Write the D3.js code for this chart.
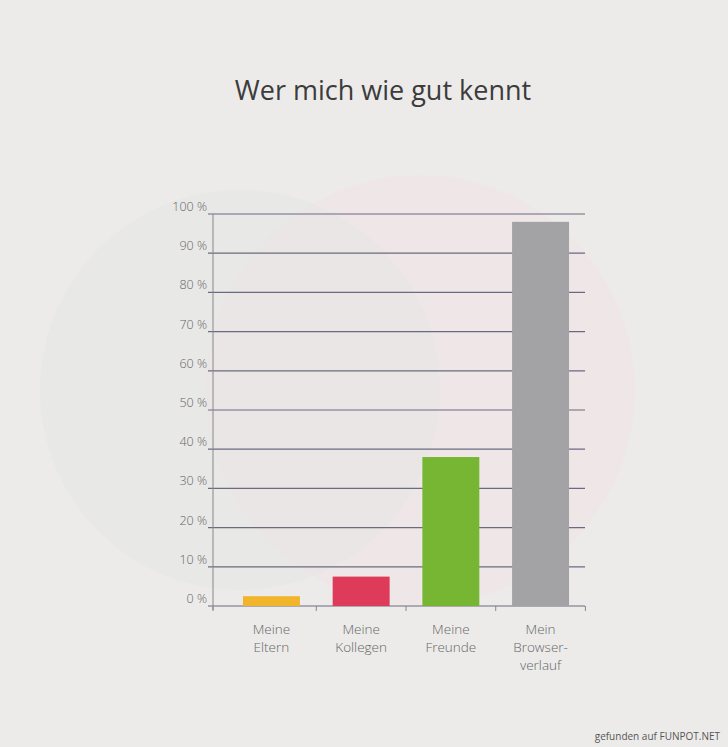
<!DOCTYPE html><html><head><meta charset="utf-8">
<script src="https://cdn.jsdelivr.net/npm/d3@7"></script>
<style>body{margin:0;background:#ececeb}text{font-family:"Open Sans",sans-serif}</style></head><body>
<svg id="c" width="728" height="747"></svg>
<script>
const categories=[["Meine","Eltern"],["Meine","Kollegen"],["Meine","Freunde"],["Mein","Browser-","verlauf"]];
const values=[2.5,7.5,38,98];
const colors=["#f0b52a","#de3a5a","#77b632","#a3a2a4"];
const tickValues=[0,10,20,30,40,50,60,70,80,90,100];
const svg=d3.select("#c");
svg.append("rect").attr("width",728).attr("height",747).attr("fill","#ecebea");
svg.append("circle").attr("cx",420).attr("cy",390).attr("r",215).attr("fill","#f1e6e6").attr("opacity",0.7);
svg.append("circle").attr("cx",240).attr("cy",390).attr("r",200).attr("fill","#e6e6e5").attr("opacity",0.6);
svg.append("text").attr("x",383).attr("y",100).attr("text-anchor","middle").attr("font-size",27).attr("fill","#3c3c3c").text("Wer mich wie gut kennt");
const x=d3.scaleBand().domain(d3.range(4)).range([213,599]).paddingInner(0.365).paddingOuter(0.334);
const y=d3.scaleLinear().domain([0,100]).range([606,214]);
const g=svg.append("g");
g.selectAll("line.g").data(tickValues).join("line").attr("x1",208).attr("x2",585).attr("y1",d=>y(d)).attr("y2",d=>y(d)).attr("stroke","#6a6a80").attr("stroke-width",1.2);
g.selectAll("text.t").data(tickValues).join("text").attr("x",207).attr("y",d=>y(d)-3).attr("text-anchor","end").attr("font-size",12.5).attr("font-weight",300).attr("fill","#666").text(d=>d+" %");
g.append("line").attr("x1",213).attr("x2",213).attr("y1",214).attr("y2",610).attr("stroke","#888");
g.selectAll("rect.b").data(values).join("rect").attr("x",(d,i)=>x(i)).attr("width",x.bandwidth()).attr("y",d=>y(d)).attr("height",d=>y(0)-y(d)).attr("fill",(d,i)=>colors[i]);
const step=x.step();
const tk=[213,...d3.range(4).map(i=>x(i)+x.bandwidth()+(step-x.bandwidth())/2)];
g.selectAll("line.k").data(tk).join("line").attr("x1",d=>d).attr("x2",d=>d).attr("y1",606).attr("y2",611).attr("stroke","#888");
categories.forEach((c,i)=>{const t=g.append("text").attr("text-anchor","middle").attr("font-size",13.5).attr("font-weight",300).attr("fill","#666");
c.forEach((s,j)=>t.append("tspan").attr("x",x(i)+x.bandwidth()/2).attr("y",634+j*18).text(s));});
svg.append("text").attr("x",720).attr("y",740).attr("text-anchor","end").attr("font-size",10).attr("fill","#555").text("gefunden auf FUNPOT.NET");
</script></body></html>
